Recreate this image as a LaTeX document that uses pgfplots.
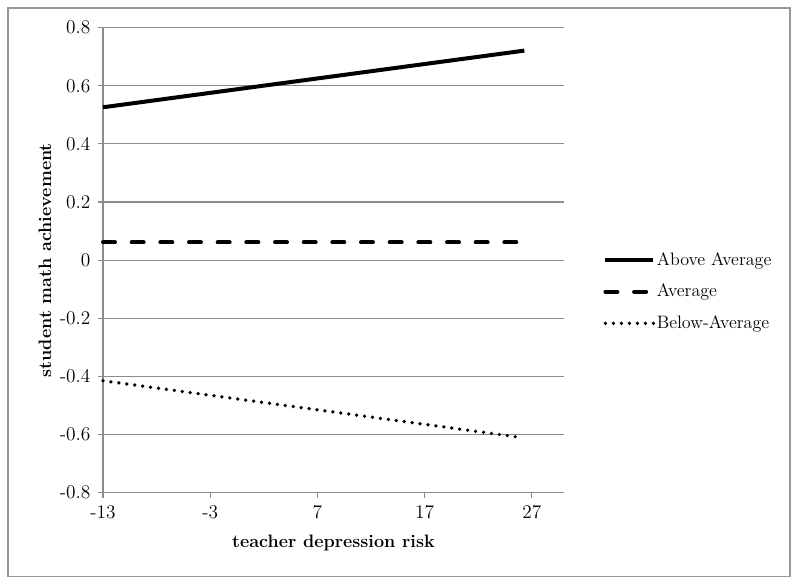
\documentclass[border=0pt]{standalone}
\usepackage{pgfplots}
\pgfplotsset{compat=1.18}
\definecolor{gridgray}{RGB}{140,140,140}
\definecolor{framegray}{RGB}{150,150,150}

\begin{document}
\begin{tikzpicture}
\fontsize{13.5}{16}\selectfont
% page extent and outer frame
\path (-77.25pt,-69pt) rectangle (522.75pt,369.5pt);
\draw[framegray, line width=1pt] (-71.25pt,-63pt) rectangle (515.25pt,363.5pt);
\begin{axis}[
    at={(0,0)}, anchor=south west,
    scale only axis,
    width=345.75pt, height=348.75pt,
    xmin=-13, xmax=30,
    ymin=-0.8, ymax=0.8,
    xtick={-13,-3,7,17,27},
    xticklabels={-13,-3,7,17,27},
    ytick={-0.8,-0.6,-0.4,-0.2,0,0.2,0.4,0.6,0.8},
    yticklabels={-0.8,-0.6,-0.4,-0.2,0,0.2,0.4,0.6,0.8},
    axis x line*=bottom, axis y line*=left,
    axis line style={gridgray, line width=0.8pt, -},
    ymajorgrids, major grid style={gridgray, line width=0.8pt},
    tick align=outside, major tick length=3.75pt,
    tick style={gridgray, line width=0.8pt},
    tick label style={font=\fontsize{14.5}{17}\selectfont},
    yticklabel style={xshift=-1pt},
    xticklabel style={yshift=-1pt},
    xlabel={\textbf{teacher depression risk}},
    ylabel={\textbf{student math achievement}},
    label style={font=\fontsize{13.5}{16}\selectfont},
    every axis x label/.style={at={(axis description cs:0.5,-0.1075)}, anchor=center},
    every axis y label/.style={at={(axis description cs:-0.126,0.5)}, rotate=90, anchor=center},
    clip=false,
    legend cell align=left,
    legend style={at={(axis description cs:1.085,0.432)}, anchor=west,
        draw=none, fill=none, inner sep=0pt, row sep=10pt,
        font=\fontsize{13.5}{16}\selectfont,
        nodes={inner sep=1pt}},
    legend image code/.code={\draw[#1] (0pt,0pt) -- (36pt,0pt);},
]
\addplot[black, line width=3pt] coordinates {(-13,0.526) (26.3,0.721)};
\addlegendentry{Above Average}
\addplot[black, line width=3pt, line cap=round, dash pattern=on 9pt off 12.5pt] coordinates {(-13,0.061) (26,0.061)};
\addlegendentry{Average}
\addplot[black, line width=2.8pt, line cap=round, dash pattern=on 0pt off 6pt] coordinates {(-13,-0.415) (26,-0.61)};
\addlegendentry{Below-Average}
\end{axis}
\end{tikzpicture}
\end{document}
